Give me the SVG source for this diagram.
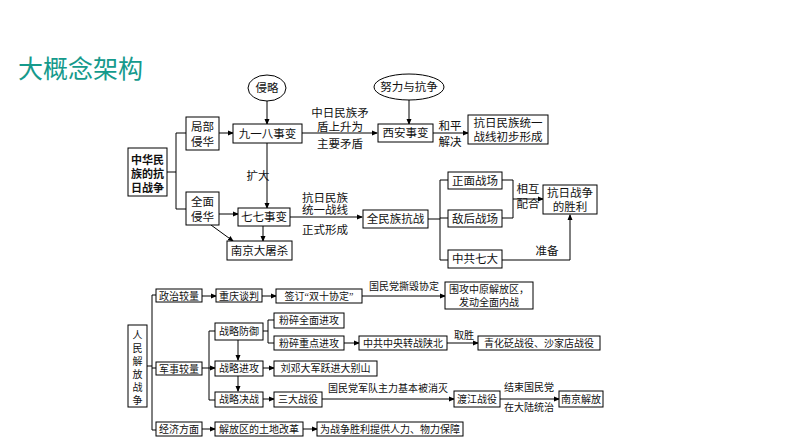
<svg xmlns="http://www.w3.org/2000/svg" width="794" height="447" viewBox="0 0 794 447">
<defs>
<marker id="ah" markerWidth="6" markerHeight="6" refX="5" refY="3" orient="auto" markerUnits="userSpaceOnUse"><path d="M0,0.5 L6,3 L0,5.5 z" fill="#000"/></marker>
<style>
text{font-family:"Liberation Serif","Noto Sans CJK SC",serif;font-size:11.5px;fill:#111;text-anchor:middle}
.s text,text.s{font-size:10px}
.b{fill:#fff;stroke:#000;stroke-width:1}
.l{fill:none;stroke:#000;stroke-width:1}
.a{fill:none;stroke:#000;stroke-width:1;marker-end:url(#ah)}
.t{font-family:"Noto Sans CJK SC",sans-serif;font-size:25px;fill:#159a8c;text-anchor:start}
.bd{font-weight:bold;font-size:11px}
</style>
</defs>
<rect width="794" height="447" fill="#fff"/>
<text class="t" x="18" y="78">大概念架构</text>
<g id="connectors">
<path class="l" d="M167,172 H176 M176,133 V209 M176,133 H186 M176,209 H186"/>
<path class="a" d="M219,133 H233"/>
<path class="a" d="M219,214 H238"/>
<path class="a" d="M267,101 V124"/>
<path class="a" d="M267,143 V208"/>
<path class="a" d="M263,226 V241"/>
<path class="a" d="M211,225 L233,241"/>
<path class="a" d="M302,133 H377"/>
<path class="a" d="M409,100 V124"/>
<path class="a" d="M433,133 H468"/>
<path class="a" d="M290,217 H362"/>
<path class="l" d="M428,219 H440 M440,180 V260 M440,180 H448 M440,218 H448 M440,260 H448"/>
<path class="l" d="M502,180 H513 V218 H502"/>
<path class="a" d="M513,199 H543"/>
<path class="a" d="M502,260 H570 V215"/>
<path class="l" d="M147,366 H152 M152,295 V430 M152,295 H156 M152,368 H156 M152,430 H156"/>
<path class="a" d="M202,296 H216"/>
<path class="a" d="M262,296 H276"/>
<path class="a" d="M362,296 H445"/>
<path class="a" d="M202,368 H215"/>
<path class="l" d="M209,331 V400 M209,331 H215 M209,400 H215"/>
<path class="a" d="M238,340 V360"/>
<path class="a" d="M238,376 V391"/>
<path class="l" d="M263,331 H268 M268,320 V343 M268,320 H274 M268,343 H274"/>
<path class="a" d="M344,343 H359"/>
<path class="a" d="M447,343 H478"/>
<path class="a" d="M263,368 H274"/>
<path class="a" d="M263,399 H274"/>
<path class="a" d="M322,399 H454"/>
<path class="a" d="M500,399 H559"/>
<path class="a" d="M202,429 H215"/>
<path class="a" d="M303,429 H317"/>
</g>
<g id="n-zhonghua"><rect class="b" x="128" y="148" width="39" height="48"/><text class="bd" x="147.5" y="164">中华民</text><text class="bd" x="147.5" y="178">族的抗</text><text class="bd" x="147.5" y="192">日战争</text></g>
<g id="n-jubu"><rect class="b" x="186" y="117" width="33" height="33"/><text x="202.5" y="131">局部</text><text x="202.5" y="146">侵华</text></g>
<g id="n-quanmian"><rect class="b" x="186" y="192" width="33" height="33"/><text x="202.5" y="206">全面</text><text x="202.5" y="221">侵华</text></g>
<g id="n-qinlue"><ellipse class="b" cx="267" cy="88" rx="19" ry="13"/><text x="267" y="92">侵略</text></g>
<g id="n-918"><rect class="b" x="233" y="124" width="69" height="19"/><text x="267.5" y="138">九一八事变</text></g>
<text x="258" y="180">扩大</text>
<g id="n-77"><rect class="b" x="238" y="208" width="52" height="18"/><text x="264" y="221">七七事变</text></g>
<g id="n-nanjing"><rect class="b" x="227" y="241" width="65" height="19"/><text x="259.5" y="255">南京大屠杀</text></g>
<text x="340" y="117">中日民族矛</text><text x="340" y="131">盾上升为</text><text x="340" y="148">主要矛盾</text>
<g id="n-nuli"><ellipse class="b" cx="409" cy="87" rx="35" ry="13"/><text x="409" y="91">努力与抗争</text></g>
<g id="n-xian"><rect class="b" x="378" y="124" width="55" height="18"/><text x="405.5" y="137">西安事变</text></g>
<text x="450" y="130">和平</text><text x="450" y="146">解决</text>
<g id="n-chubu"><rect class="b" x="468" y="115" width="80" height="29"/><text x="508" y="127">抗日民族统一</text><text x="508" y="141">战线初步形成</text></g>
<text x="325" y="202">抗日民族</text><text x="325" y="214">统一战线</text><text x="325" y="234">正式形成</text>
<g id="n-quanminzu"><rect class="b" x="363" y="210" width="65" height="18"/><text x="395.5" y="223">全民族抗战</text></g>
<g id="n-zhengmian"><rect class="b" x="448" y="172" width="54" height="17"/><text x="475" y="185">正面战场</text></g>
<g id="n-dihou"><rect class="b" x="448" y="210" width="54" height="17"/><text x="475" y="223">敌后战场</text></g>
<g id="n-qida"><rect class="b" x="448" y="250" width="54" height="18"/><text x="475" y="263">中共七大</text></g>
<text x="528" y="193">相互</text><text x="528" y="208">配合</text>
<g id="n-shengli"><rect class="b" x="543" y="185" width="54" height="29"/><text x="570" y="197">抗日战争</text><text x="570" y="211">的胜利</text></g>
<text x="547" y="255">准备</text>
<g class="s">
<g id="n-renmin"><rect class="b" x="128" y="325" width="19" height="82"/><text x="137.5" y="339">人</text><text x="137.5" y="352">民</text><text x="137.5" y="365">解</text><text x="137.5" y="378">放</text><text x="137.5" y="391">战</text><text x="137.5" y="404">争</text></g>
<g id="n-zhengzhi"><rect class="b" x="156" y="289" width="46" height="13"/><text x="179" y="299.5">政治较量</text></g>
<g id="n-chongqing"><rect class="b" x="216" y="289" width="46" height="13"/><text x="239" y="299.5">重庆谈判</text></g>
<g id="n-shuangshi"><rect class="b" x="276" y="289" width="86" height="14"/><text x="319" y="300">签订“双十协定”</text></g>
<text x="404" y="290">国民党撕毁协定</text>
<g id="n-neizhan"><rect class="b" x="445" y="282" width="88" height="27"/><text x="489" y="293">围攻中原解放区，</text><text x="489" y="306">发动全面内战</text></g>
<g id="n-junshi"><rect class="b" x="156" y="362" width="46" height="13"/><text x="179" y="372.5">军事较量</text></g>
<g id="n-fangyu"><rect class="b" x="215" y="323" width="48" height="17"/><text x="239" y="335">战略防御</text></g>
<g id="n-jingong"><rect class="b" x="215" y="361" width="48" height="15"/><text x="239" y="372">战略进攻</text></g>
<g id="n-juezhan"><rect class="b" x="215" y="392" width="48" height="15"/><text x="239" y="403">战略决战</text></g>
<g id="n-fensui1"><rect class="b" x="274" y="313" width="70" height="15"/><text x="309" y="324">粉碎全面进攻</text></g>
<g id="n-fensui2"><rect class="b" x="274" y="336" width="70" height="14"/><text x="309" y="347">粉碎重点进攻</text></g>
<g id="n-shanbei"><rect class="b" x="359" y="336" width="88" height="14"/><text x="403" y="347">中共中央转战陕北</text></g>
<text x="464" y="339">取胜</text>
<g id="n-qinghua"><rect class="b" x="478" y="336" width="122" height="14"/><text x="539" y="347">青化砭战役、沙家店战役</text></g>
<g id="n-liudeng"><rect class="b" x="274" y="361" width="103" height="15"/><text x="325.5" y="372">刘邓大军跃进大别山</text></g>
<g id="n-sanda"><rect class="b" x="274" y="392" width="48" height="15"/><text x="298" y="403">三大战役</text></g>
<text x="388" y="392">国民党军队主力基本被消灭</text>
<g id="n-dujiang"><rect class="b" x="454" y="391" width="46" height="16"/><text x="477" y="403">渡江战役</text></g>
<text x="529" y="391">结束国民党</text><text x="529" y="411">在大陆统治</text>
<g id="n-nanjingjf"><rect class="b" x="559" y="391" width="44" height="16"/><text x="581" y="403">南京解放</text></g>
<g id="n-jingji"><rect class="b" x="156" y="422" width="46" height="14"/><text x="179" y="433">经济方面</text></g>
<g id="n-tugai"><rect class="b" x="215" y="422" width="88" height="14"/><text x="259" y="433">解放区的土地改革</text></g>
<g id="n-baozhang"><rect class="b" x="317" y="422" width="146" height="14"/><text x="390" y="433">为战争胜利提供人力、物力保障</text></g>
</g>
</svg>
